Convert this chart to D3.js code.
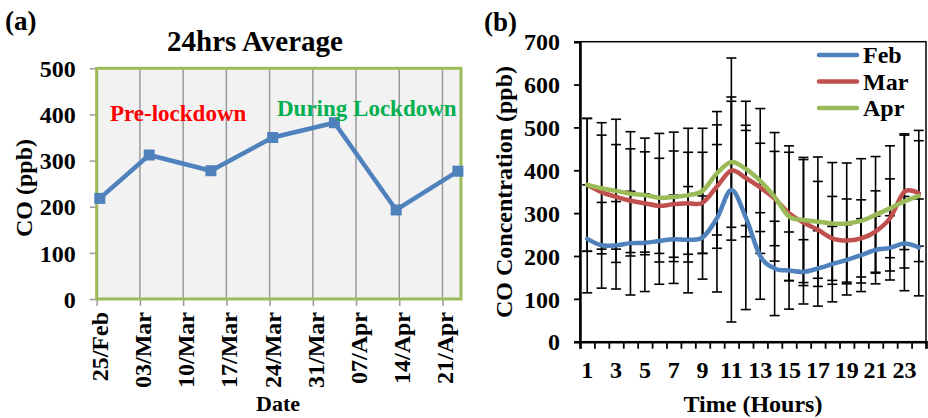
<!DOCTYPE html>
<html>
<head>
<meta charset="utf-8">
<script src="https://cdn.jsdelivr.net/npm/d3@7"></script>
<style>
  html, body { margin: 0; padding: 0; background: #ffffff; }
  svg { display: block; }
  text { font-family: "Liberation Serif", "Times New Roman", serif; font-weight: bold; fill: #000; }
</style>
</head>
<body>
<svg id="chart" width="928" height="418"></svg>
<script>
// ---------- Panel (a) data ----------
const avgDates = ["2020-02-25 12:00", "2020-03-04 12:00", "2020-03-14 12:00", "2020-03-24 12:00",
                  "2020-04-03 12:00", "2020-04-13 12:00", "2020-04-23 12:00"];
const avgCO = [218, 312, 278, 350, 382, 193, 277];
const dateTicks = ["2020-02-25", "2020-03-03", "2020-03-10", "2020-03-17", "2020-03-24",
                   "2020-03-31", "2020-04-07", "2020-04-14", "2020-04-21"];
const dateDomain = ["2020-02-25", "2020-04-24"];
const avgYTicks = [0, 100, 200, 300, 400, 500];

// ---------- Panel (b) data ----------
const hours = d3.range(1, 25);
const hourTickLabels = ["1", "3", "5", "7", "9", "11", "13", "15", "17", "19", "21", "23"];
const seriesNames = ["Feb", "Mar", "Apr"];
const febCO  = [240, 225, 225, 230, 231, 235, 239, 238, 243, 288, 354, 290, 200, 171, 166, 163, 171, 181, 191, 202, 214, 219, 229, 220];
const febErr = [126, 100, 102, 121, 114, 101, 103, 124,  97, 172, 308, 215, 101, 110,  90,  75,  88,  88,  82,  85,  79,  75, 110, 113];
const marCO  = [366, 349, 338, 329, 323, 317, 321, 323, 324, 362, 399, 382, 360, 334, 300, 278, 261, 241, 236, 241, 257, 288, 350, 346];
const marErr = [155, 133, 122, 121, 120, 111, 124, 119, 118, 144, 162, 111, 103, 110, 157, 147, 113,  98,  97,  90,  95,  92, 135, 123];
const aprCO  = [366, 358, 352, 345, 342, 336, 338, 342, 352, 393, 419, 403, 375, 338, 292, 284, 280, 276, 276, 282, 296, 311, 327, 340];
const aprErr = [155, 153, 167, 145, 133, 150, 151, 156, 146, 144, 152, 158, 169, 150, 150, 146, 151, 142, 141, 145, 136, 146, 155, 153];
const hourYTicks = [0, 100, 200, 300, 400, 500, 600, 700];

const colors = { Feb: "#4f81bd", Mar: "#c0504d", Apr: "#9bbb59" };
const series = [
  { name: "Feb", values: febCO, err: febErr },
  { name: "Mar", values: marCO, err: marErr },
  { name: "Apr", values: aprCO, err: aprErr }
];

const svg = d3.select("#chart");
const parseDT = d3.timeParse("%Y-%m-%d %H:%M");
const parseD = d3.timeParse("%Y-%m-%d");

// ================= Panel (a) =================
const A = { left: 96.7, right: 461, top: 68.3, bottom: 299 };
const xa = d3.scaleTime().domain(dateDomain.map(parseD)).range([A.left, A.right]);
const ya = d3.scaleLinear().domain([0, 500]).range([A.bottom, A.top]);

const ga = svg.append("g");
ga.append("rect")
  .attr("x", A.left).attr("y", A.top)
  .attr("width", A.right - A.left).attr("height", A.bottom - A.top)
  .attr("fill", "#f2f2f2");

// vertical gridlines
ga.append("g").selectAll("line").data(dateTicks.map(parseD)).join("line")
  .attr("x1", d => xa(d)).attr("x2", d => xa(d))
  .attr("y1", A.top).attr("y2", A.bottom)
  .attr("stroke", "#9a9a9a").attr("stroke-width", 1.5);

// y axis (ticks only + labels)
const yAxisA = ga.append("g").attr("transform", `translate(${A.left},0)`)
  .call(d3.axisLeft(ya).tickValues(avgYTicks).tickSize(7).tickPadding(14));
yAxisA.select(".domain").remove();
yAxisA.selectAll(".tick line").attr("stroke", "#9a9a9a").attr("stroke-width", 1.5);
yAxisA.selectAll(".tick text")
  .style("font-family", '"Liberation Serif", serif').style("font-weight", "bold")
  .style("font-size", "24px").attr("dy", "0.34em");

// x axis ticks
const xAxisA = ga.append("g").attr("transform", `translate(0,${A.bottom})`)
  .call(d3.axisBottom(xa).tickValues(dateTicks.map(parseD)).tickSize(7).tickFormat(""));
xAxisA.select(".domain").remove();
xAxisA.selectAll(".tick line").attr("stroke", "#9a9a9a").attr("stroke-width", 1.5);

const fmtA = d3.timeFormat("%d/%b");
ga.append("g").selectAll("text").data(dateTicks.map(parseD)).join("text")
  .attr("transform", d => `translate(${xa(d) + 11},${A.bottom + 13}) rotate(-90)`)
  .attr("text-anchor", "end")
  .style("font-size", "24px")
  .text(d => fmtA(d));

// border
ga.append("rect")
  .attr("x", A.left).attr("y", A.top)
  .attr("width", A.right - A.left).attr("height", A.bottom - A.top)
  .attr("fill", "none").attr("stroke", "#9bbb59").attr("stroke-width", 3);

// line + markers
const ptsA = avgDates.map((d, i) => ({ d: parseDT(d), v: avgCO[i] }));
ga.append("path").datum(ptsA)
  .attr("fill", "none").attr("stroke", "#4f81bd").attr("stroke-width", 4.5)
  .attr("stroke-linejoin", "round")
  .attr("d", d3.line().x(p => xa(p.d)).y(p => ya(p.v)));
ga.append("g").selectAll("rect").data(ptsA).join("rect")
  .attr("x", p => xa(p.d) - 5.5).attr("y", p => ya(p.v) - 5.5)
  .attr("width", 11).attr("height", 11)
  .attr("fill", "#4f81bd");

// texts
ga.append("text").attr("x", 5).attr("y", 30).style("font-size", "27px").text("(a)");
ga.append("text").attr("x", 255).attr("y", 51).attr("text-anchor", "middle")
  .style("font-size", "29px").text("24hrs Average");
ga.append("text").attr("x", 110).attr("y", 121).style("font-size", "23px")
  .style("fill", "#ff0000").text("Pre-lockdown");
ga.append("text").attr("x", 277).attr("y", 116).style("font-size", "23px")
  .style("fill", "#00b050").text("During Lockdown");
ga.append("text").attr("transform", "translate(32,188) rotate(-90)")
  .attr("text-anchor", "middle").style("font-size", "24px").text("CO (ppb)");
ga.append("text").attr("x", 278).attr("y", 411).attr("text-anchor", "middle")
  .style("font-size", "22px").text("Date");

// ================= Panel (b) =================
const B = { left: 580, right: 926, top: 41.7, bottom: 341.7 };
const xb = d3.scaleLinear().domain([0, 24]).range([B.left, B.right]);
const yb = d3.scaleLinear().domain([0, 700]).range([B.bottom, B.top]);
const hx = h => xb(h - 0.5);

const gb = svg.append("g");

// border (top/right thin)
gb.append("rect")
  .attr("x", B.left).attr("y", B.top)
  .attr("width", B.right - B.left).attr("height", B.bottom - B.top)
  .attr("fill", "none").attr("stroke", "#000").attr("stroke-width", 1.5);

// error bars
const capW = 5;
series.forEach(s => {
  const g = gb.append("g").attr("stroke", "#000").attr("stroke-width", 1.6);
  const data = hours.map((h, i) => ({ h, v: s.values[i], e: s.err[i] }));
  g.selectAll("line.v").data(data).join("line").attr("class", "v")
    .attr("x1", d => hx(d.h)).attr("x2", d => hx(d.h))
    .attr("y1", d => yb(d.v + d.e)).attr("y2", d => yb(d.v - d.e));
  g.selectAll("line.t").data(data).join("line").attr("class", "t")
    .attr("x1", d => hx(d.h) - capW).attr("x2", d => hx(d.h) + capW)
    .attr("y1", d => yb(d.v + d.e)).attr("y2", d => yb(d.v + d.e));
  g.selectAll("line.b").data(data).join("line").attr("class", "b")
    .attr("x1", d => hx(d.h) - capW).attr("x2", d => hx(d.h) + capW)
    .attr("y1", d => yb(d.v - d.e)).attr("y2", d => yb(d.v - d.e));
});

// lines
const lineB = d3.line().curve(d3.curveCardinal.tension(0))
  .x((v, i) => hx(hours[i])).y(v => yb(v));
series.forEach(s => {
  gb.append("path").datum(s.values)
    .attr("fill", "none").attr("stroke", colors[s.name]).attr("stroke-width", 4.5)
    .attr("stroke-linecap", "round").attr("stroke-linejoin", "round")
    .attr("d", lineB);
});

// y axis
const yAxisB = gb.append("g").attr("transform", `translate(${B.left},0)`)
  .call(d3.axisLeft(yb).tickValues(hourYTicks).tickSize(6).tickPadding(14));
yAxisB.select(".domain").attr("stroke", "#000").attr("stroke-width", 2.5);
yAxisB.selectAll(".tick line").attr("stroke", "#000").attr("stroke-width", 1.8);
yAxisB.selectAll(".tick text")
  .style("font-family", '"Liberation Serif", serif').style("font-weight", "bold")
  .style("font-size", "24px").attr("dy", "0.34em");

// x axis
const xAxisB = gb.append("g").attr("transform", `translate(0,${B.bottom})`)
  .call(d3.axisBottom(xb).tickValues(d3.range(0, 25)).tickSize(7).tickFormat(""));
xAxisB.select(".domain").attr("stroke", "#000").attr("stroke-width", 2.5);
xAxisB.selectAll(".tick line").attr("stroke", "#000").attr("stroke-width", 1.8);

gb.append("g").selectAll("text").data(hourTickLabels).join("text")
  .attr("x", d => hx(+d)).attr("y", 378).attr("text-anchor", "middle")
  .style("font-size", "24px").text(d => d);

// legend
const lg = gb.append("g");
seriesNames.forEach((n, i) => {
  const yy = 55 + i * 26.5;
  lg.append("line").attr("x1", 819).attr("x2", 857).attr("y1", yy).attr("y2", yy)
    .attr("stroke", colors[n]).attr("stroke-width", 4.5).attr("stroke-linecap", "round");
  lg.append("text").attr("x", 863).attr("y", yy + 8).style("font-size", "24px").text(n);
});

// titles
gb.append("text").attr("x", 484).attr("y", 31).style("font-size", "27px").text("(b)");
gb.append("text").attr("transform", "translate(512,192) rotate(-90)")
  .attr("text-anchor", "middle").style("font-size", "24px").text("CO Concentration (ppb)");
gb.append("text").attr("x", 753).attr("y", 412).attr("text-anchor", "middle")
  .style("font-size", "24px").text("Time (Hours)");
</script>
</body>
</html>
